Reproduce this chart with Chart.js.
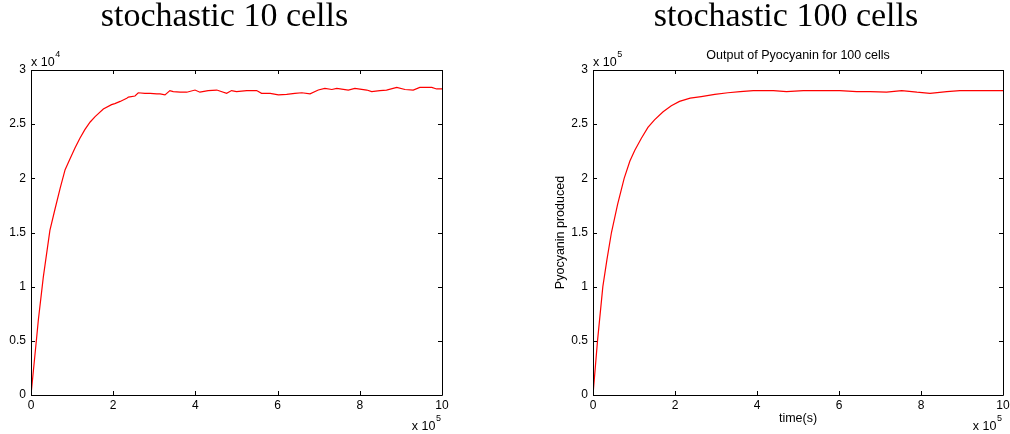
<!DOCTYPE html>
<html>
<head>
<meta charset="utf-8">
<script src="https://cdn.jsdelivr.net/npm/chart.js@4/dist/chart.umd.min.js"></script>
<style>
  html, body { margin: 0; padding: 0; background: #fff; overflow: hidden; }
  #wrap { position: relative; width: 1010px; height: 434px; }
  canvas { position: absolute; top: 0; }
</style>
</head>
<body>
<div id="wrap">
  <canvas id="chart10" width="462" height="434" style="left:0px"></canvas>
  <canvas id="chart100" width="505" height="434" style="left:505px"></canvas>
</div>
<script>
// time in units of 1e5 s
const tenCellsTime = [0, 0.14, 0.178, 0.30, 0.46, 0.58, 0.71, 0.83, 0.95, 1.07, 1.19, 1.31, 1.44, 1.56, 1.76, 1.96, 2.04, 2.17, 2.33, 2.37, 2.53, 2.61, 2.77, 2.90, 3.06, 3.14, 3.26, 3.38, 3.46, 3.63, 3.79, 3.99, 4.11, 4.31, 4.52, 4.76, 4.88, 5.00, 5.25, 5.49, 5.61, 5.82, 6.02, 6.22, 6.42, 6.59, 6.79, 6.99, 7.15, 7.32, 7.44, 7.72, 7.88, 8.17, 8.29, 8.49, 8.65, 8.90, 9.10, 9.30, 9.46, 9.75, 9.87, 10.0];
// pyocyanin in units of 1e4
const tenCellsValue = [0, 0.54, 0.69, 1.09, 1.52, 1.71, 1.91, 2.08, 2.18, 2.28, 2.37, 2.45, 2.52, 2.57, 2.64, 2.68, 2.69, 2.71, 2.74, 2.75, 2.76, 2.79, 2.785, 2.785, 2.78, 2.78, 2.77, 2.81, 2.80, 2.795, 2.795, 2.815, 2.795, 2.81, 2.815, 2.785, 2.81, 2.80, 2.81, 2.81, 2.785, 2.785, 2.77, 2.775, 2.785, 2.79, 2.78, 2.815, 2.83, 2.82, 2.83, 2.815, 2.83, 2.815, 2.80, 2.81, 2.815, 2.84, 2.82, 2.815, 2.84, 2.84, 2.825, 2.825];

// time in units of 1e5 s
const hundredCellsTime = [0, 0.11, 0.24, 0.34, 0.45, 0.60, 0.76, 0.90, 1.02, 1.18, 1.34, 1.50, 1.71, 1.91, 2.11, 2.37, 2.64, 2.97, 3.29, 3.59, 3.91, 4.40, 4.72, 5.13, 5.54, 6.02, 6.43, 6.76, 7.16, 7.53, 7.90, 8.22, 8.63, 8.95, 9.44, 10.0];
// pyocyanin in units of 1e5
const hundredCellsValue = [0, 0.50, 1.00, 1.25, 1.50, 1.76, 2.00, 2.16, 2.26, 2.37, 2.47, 2.54, 2.615, 2.67, 2.71, 2.74, 2.755, 2.775, 2.79, 2.80, 2.81, 2.81, 2.80, 2.81, 2.81, 2.81, 2.80, 2.80, 2.795, 2.81, 2.795, 2.785, 2.80, 2.81, 2.81, 2.81];

const xTicks = [0, 2, 4, 6, 8, 10];
const yTicks = [0, 0.5, 1, 1.5, 2, 2.5, 3];

const sans = 'Liberation Sans, Arial, Helvetica, sans-serif';
const tickFont = { family: sans, size: 12 };
const labelFont = { family: sans, size: 12.5 };
const titleFont = { family: 'Liberation Serif, Times New Roman, serif', size: 34, weight: 'normal', lineHeight: 1 };

// MATLAB style box: inward ticks on all sides plus the "x 10^n" multipliers
const matlabBox = {
    id: 'matlabBox',
    afterDraw(chart, args, opts) {
        const ctx = chart.ctx;
        const a = chart.chartArea;
        const xs = chart.scales.x;
        const ys = chart.scales.y;
        ctx.save();
        ctx.strokeStyle = '#000';
        ctx.lineWidth = 1;
        ctx.beginPath();
        ctx.rect(Math.round(a.left) + 0.5, Math.round(a.top) + 0.5, Math.round(a.right - a.left), Math.round(a.bottom - a.top));
        xTicks.forEach(v => {
            const px = Math.round(xs.getPixelForValue(v)) + 0.5;
            ctx.moveTo(px, a.bottom); ctx.lineTo(px, a.bottom - 4);
            ctx.moveTo(px, a.top); ctx.lineTo(px, a.top + 4);
        });
        yTicks.forEach(v => {
            const py = Math.round(ys.getPixelForValue(v)) + 0.5;
            ctx.moveTo(a.left, py); ctx.lineTo(a.left + 4, py);
            ctx.moveTo(a.right, py); ctx.lineTo(a.right - 4, py);
        });
        ctx.stroke();

        ctx.fillStyle = '#000';
        ctx.textBaseline = 'alphabetic';
        // y multiplier, top left
        ctx.font = '12.5px ' + sans;
        ctx.textAlign = 'left';
        ctx.fillText('x 10', a.left, 65.5);
        const w1 = ctx.measureText('x 10').width;
        ctx.font = '9px ' + sans;
        ctx.fillText(opts.yExp, a.left + w1 + 0.5, 57);
        // x multiplier, bottom right
        ctx.textAlign = 'right';
        ctx.fillText(opts.xExp, a.right - 1, 421);
        const w2 = ctx.measureText(opts.xExp).width;
        ctx.font = '12.5px ' + sans;
        ctx.fillText('x 10', a.right - 1.5 - w2, 430);
        ctx.restore();
    }
};

function axes(yTitle, xTitle, yWidth, yTitlePad) {
    return {
        x: {
            type: 'linear', min: 0, max: 10,
            afterBuildTicks: s => { s.ticks = xTicks.map(v => ({ value: v })); },
            afterFit: s => { s.height = 39; s.paddingLeft = 0; s.paddingRight = 0; },
            grid: { display: false, drawTicks: false },
            border: { display: false },
            ticks: { color: '#000', font: tickFont, padding: 3, maxRotation: 0, callback: v => String(v) },
            title: { display: !!xTitle, text: xTitle, color: '#000', font: labelFont, padding: { top: 0, bottom: 7.8 } }
        },
        y: {
            type: 'linear', min: 0, max: 3,
            afterBuildTicks: s => { s.ticks = yTicks.map(v => ({ value: v })); },
            afterFit: s => { s.width = yWidth; s.paddingTop = 0; s.paddingBottom = 0; },
            grid: { display: false, drawTicks: false },
            border: { display: false },
            ticks: { color: '#000', font: tickFont, padding: 5, autoSkip: false, callback: v => String(v) },
            title: { display: !!yTitle, text: yTitle, color: '#000', font: labelFont, padding: { top: yTitlePad, bottom: 0 } }
        }
    };
}

function points(xs, ys) {
    return xs.map((x, i) => ({ x: x, y: ys[i] }));
}

new Chart(document.getElementById('chart10'), {
    type: 'line',
    data: {
        datasets: [{
            data: points(tenCellsTime, tenCellsValue),
            borderColor: '#ff0000',
            borderWidth: 1.2,
            pointRadius: 0,
            tension: 0,
            fill: false
        }]
    },
    options: {
        responsive: false,
        animation: false,
        layout: { padding: { left: 7, right: 20, top: 0, bottom: 0 } },
        scales: axes('', '', 24, 0),
        plugins: {
            legend: { display: false },
            tooltip: { enabled: false },
            title: { display: true, text: 'stochastic 10 cells', color: '#000', font: titleFont, padding: { top: 0, bottom: 36 } },
            matlabBox: { xExp: '5', yExp: '4' }
        }
    },
    plugins: [matlabBox]
});

new Chart(document.getElementById('chart100'), {
    type: 'line',
    data: {
        datasets: [{
            data: points(hundredCellsTime, hundredCellsValue),
            borderColor: '#ff0000',
            borderWidth: 1.2,
            pointRadius: 0,
            tension: 0,
            fill: false
        }]
    },
    options: {
        responsive: false,
        animation: false,
        layout: { padding: { left: 64, right: 7, top: 0, bottom: 0 } },
        scales: axes('Pyocyanin produced', 'time(s)', 24, -16),
        plugins: {
            legend: { display: false },
            tooltip: { enabled: false },
            title: { display: true, text: 'stochastic 100 cells', color: '#000', font: titleFont, padding: { top: 0, bottom: 14.2 } },
            subtitle: { display: true, fullSize: false, text: 'Output of Pyocyanin for 100 cells', color: '#000', font: labelFont, padding: { top: 0, bottom: 6.8 } },
            matlabBox: { xExp: '5', yExp: '5' }
        }
    },
    plugins: [matlabBox]
});
</script>
</body>
</html>
